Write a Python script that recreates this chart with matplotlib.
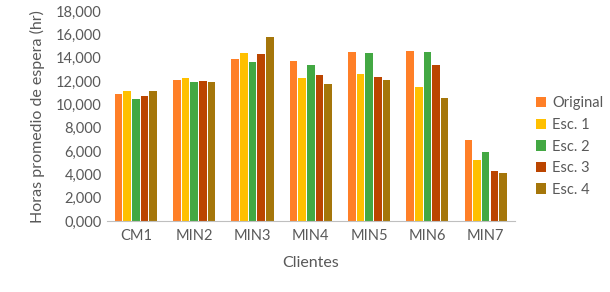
import numpy as np
import matplotlib.pyplot as plt
from matplotlib.ticker import FuncFormatter

clientes = ["CM1", "MIN2", "MIN3", "MIN4", "MIN5", "MIN6", "MIN7"]
original = [10850, 12050, 13880, 13710, 14500, 14620, 6950]
esc1 = [11160, 12270, 14420, 12270, 12590, 11450, 5210]
esc2 = [10440, 11900, 13650, 13360, 14370, 14480, 5920]
esc3 = [10700, 11990, 14330, 12480, 12390, 13420, 4320]
esc4 = [11160, 11880, 15800, 11790, 12050, 10530, 4150]

series = [("Original", original, "#FF7F27"),
          ("Esc. 1", esc1, "#FFC000"),
          ("Esc. 2", esc2, "#43A843"),
          ("Esc. 3", esc3, "#BB4500"),
          ("Esc. 4", esc4, "#A5760A")]

plt.rcParams['font.family'] = ['Lato', 'DejaVu Sans']
gray = "#595959"

fig = plt.figure(figsize=(6.1, 2.92), dpi=100)
ax = fig.add_axes([0.175, 0.243, 0.669, 0.719])

x = np.arange(len(clientes))
step = 0.148
for i, (name, vals, col) in enumerate(series):
    ax.bar(x + (i - 2) * step, vals, width=step * 0.88, color=col, label=name)

ax.set_xlim(-0.5, len(clientes) - 0.5)
ax.set_ylim(0, 18000)
ax.set_yticks(range(0, 18001, 2000))
ax.yaxis.set_major_formatter(FuncFormatter(lambda v, p: f"{int(v)//1000},000"))
ax.set_xticks(x)
ax.set_xticklabels(clientes)
ax.tick_params(axis='both', length=0, colors=gray, labelsize=10.5)
ax.tick_params(axis='x', pad=6)
for s in ["top", "right", "left"]:
    ax.spines[s].set_visible(False)
ax.spines["bottom"].set_color("#BFBFBF")

ax.set_xlabel("Clientes", color=gray, fontsize=11.5, labelpad=9)
ax.set_ylabel("Horas promedio de espera (hr)", color=gray, fontsize=11.5, labelpad=8)

leg = ax.legend(loc="center left", bbox_to_anchor=(1.02, 0.355), frameon=False,
                handlelength=0.7, handleheight=0.7, handletextpad=0.4,
                fontsize=10.5, labelspacing=0.52)
for t in leg.get_texts():
    t.set_color(gray)

fig.savefig("out.png", dpi=100)
